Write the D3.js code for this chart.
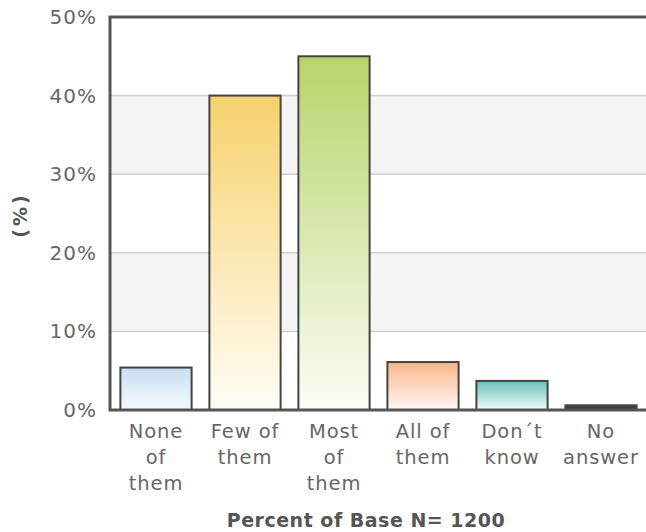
<!DOCTYPE html>
<html>
<head>
<meta charset="utf-8">
<script src="https://cdn.jsdelivr.net/npm/d3@7"></script>
<style>
  html, body { margin: 0; padding: 0; background: #fff; }
  svg { display: block; }
</style>
</head>
<body>
<svg id="chart" width="646" height="532"></svg>
<script>
// Survey answers, percent of base N = 1200
const categories = ["None of them", "Few of them", "Most of them", "All of them", "Don´t know", "No answer"];
const labelLines = [["None", "of", "them"], ["Few of", "them"], ["Most", "of", "them"], ["All of", "them"], ["Don´t", "know"], ["No", "answer"]];
const values = [5.4, 40, 45, 6.1, 3.7, 0.6];
const yTicks = [0, 10, 20, 30, 40, 50];
const topColors = ["#c6ddf1", "#f6d16c", "#b6d46a", "#f8b68a", "#67c1b9", "#3e3e3e"];
const bottomColors = ["#f7fbfe", "#fffdf6", "#fbfdf5", "#fff8f4", "#f4fbfb", "#3e3e3e"];

const svg = d3.select("#chart");
const font = "'DejaVu Sans', Verdana, sans-serif";
const m = { left: 110, top: 17, bottom: 410, right: 646 };

const x = d3.scaleBand().domain(categories).range([111.5, 645.5]).paddingInner(0.2).paddingOuter(0.1);
const y = d3.scaleLinear().domain([0, 50]).range([m.bottom, m.top]);

// alternating grey bands
const bands = [[10, 20], [30, 40]];
svg.append("g").selectAll("rect").data(bands).join("rect")
  .attr("x", m.left).attr("width", m.right - m.left)
  .attr("y", d => y(d[1])).attr("height", d => y(d[0]) - y(d[1]))
  .attr("fill", "#f4f4f4");

// gridlines
svg.append("g").selectAll("line").data(yTicks.filter(t => t > 0 && t < 50)).join("line")
  .attr("x1", m.left).attr("x2", m.right)
  .attr("y1", d => y(d)).attr("y2", d => y(d))
  .attr("stroke", "#d0d0d0").attr("stroke-width", 1.5);

// gradients
const defs = svg.append("defs");
categories.forEach((c, i) => {
  const g = defs.append("linearGradient").attr("id", "grad" + i)
    .attr("x1", 0).attr("x2", 0).attr("y1", 0).attr("y2", 1);
  g.append("stop").attr("offset", "0%").attr("stop-color", topColors[i]);
  g.append("stop").attr("offset", "100%").attr("stop-color", bottomColors[i]);
});

// bars
svg.append("g").selectAll("rect").data(categories).join("rect")
  .attr("x", d => x(d)).attr("width", x.bandwidth())
  .attr("y", (d, i) => y(values[i]))
  .attr("height", (d, i) => y(0) - y(values[i]))
  .attr("fill", (d, i) => `url(#grad${i})`)
  .attr("stroke", "#444").attr("stroke-width", 2);

// frame: left, top, bottom
svg.append("path")
  .attr("d", `M${m.right},${m.top} H${m.left} V${m.bottom} H${m.right}`)
  .attr("fill", "none").attr("stroke", "#555").attr("stroke-width", 3);

// y axis labels
const yAxis = d3.axisLeft(y).tickValues(yTicks).tickFormat(d => d + "%").tickSize(0).tickPadding(13);
const ya = svg.append("g").attr("transform", `translate(${m.left},0)`).call(yAxis);
ya.select(".domain").remove();
ya.selectAll("text").attr("font-family", font).attr("font-size", 20)
  .attr("letter-spacing", 1).attr("fill", "#666");

// x axis labels (multi-line)
const xa = svg.append("g").attr("transform", `translate(0,${m.bottom})`).call(d3.axisBottom(x).tickSize(0).tickFormat(""));
xa.select(".domain").remove();
xa.selectAll(".tick").each(function(d, i) {
  const t = d3.select(this).append("text")
    .attr("font-family", font).attr("font-size", 19.5).attr("letter-spacing", 0.9)
    .attr("fill", "#666").attr("text-anchor", "middle");
  labelLines[i].forEach((ln, k) => {
    t.append("tspan").attr("x", 0).attr("y", 28 + k * 26).text(ln);
  });
});

// axis titles
svg.append("text").attr("x", 366).attr("y", 527)
  .attr("text-anchor", "middle").attr("font-family", font).attr("font-weight", "bold")
  .attr("font-size", 19).attr("letter-spacing", 0.5).attr("fill", "#555").text("Percent of Base N= 1200");

svg.append("text").attr("transform", "translate(27,215) rotate(-90)")
  .attr("text-anchor", "middle").attr("font-family", font).attr("font-weight", "bold")
  .attr("font-size", 19).attr("letter-spacing", 3).attr("fill", "#555").text("(%)");
</script>
</body>
</html>
